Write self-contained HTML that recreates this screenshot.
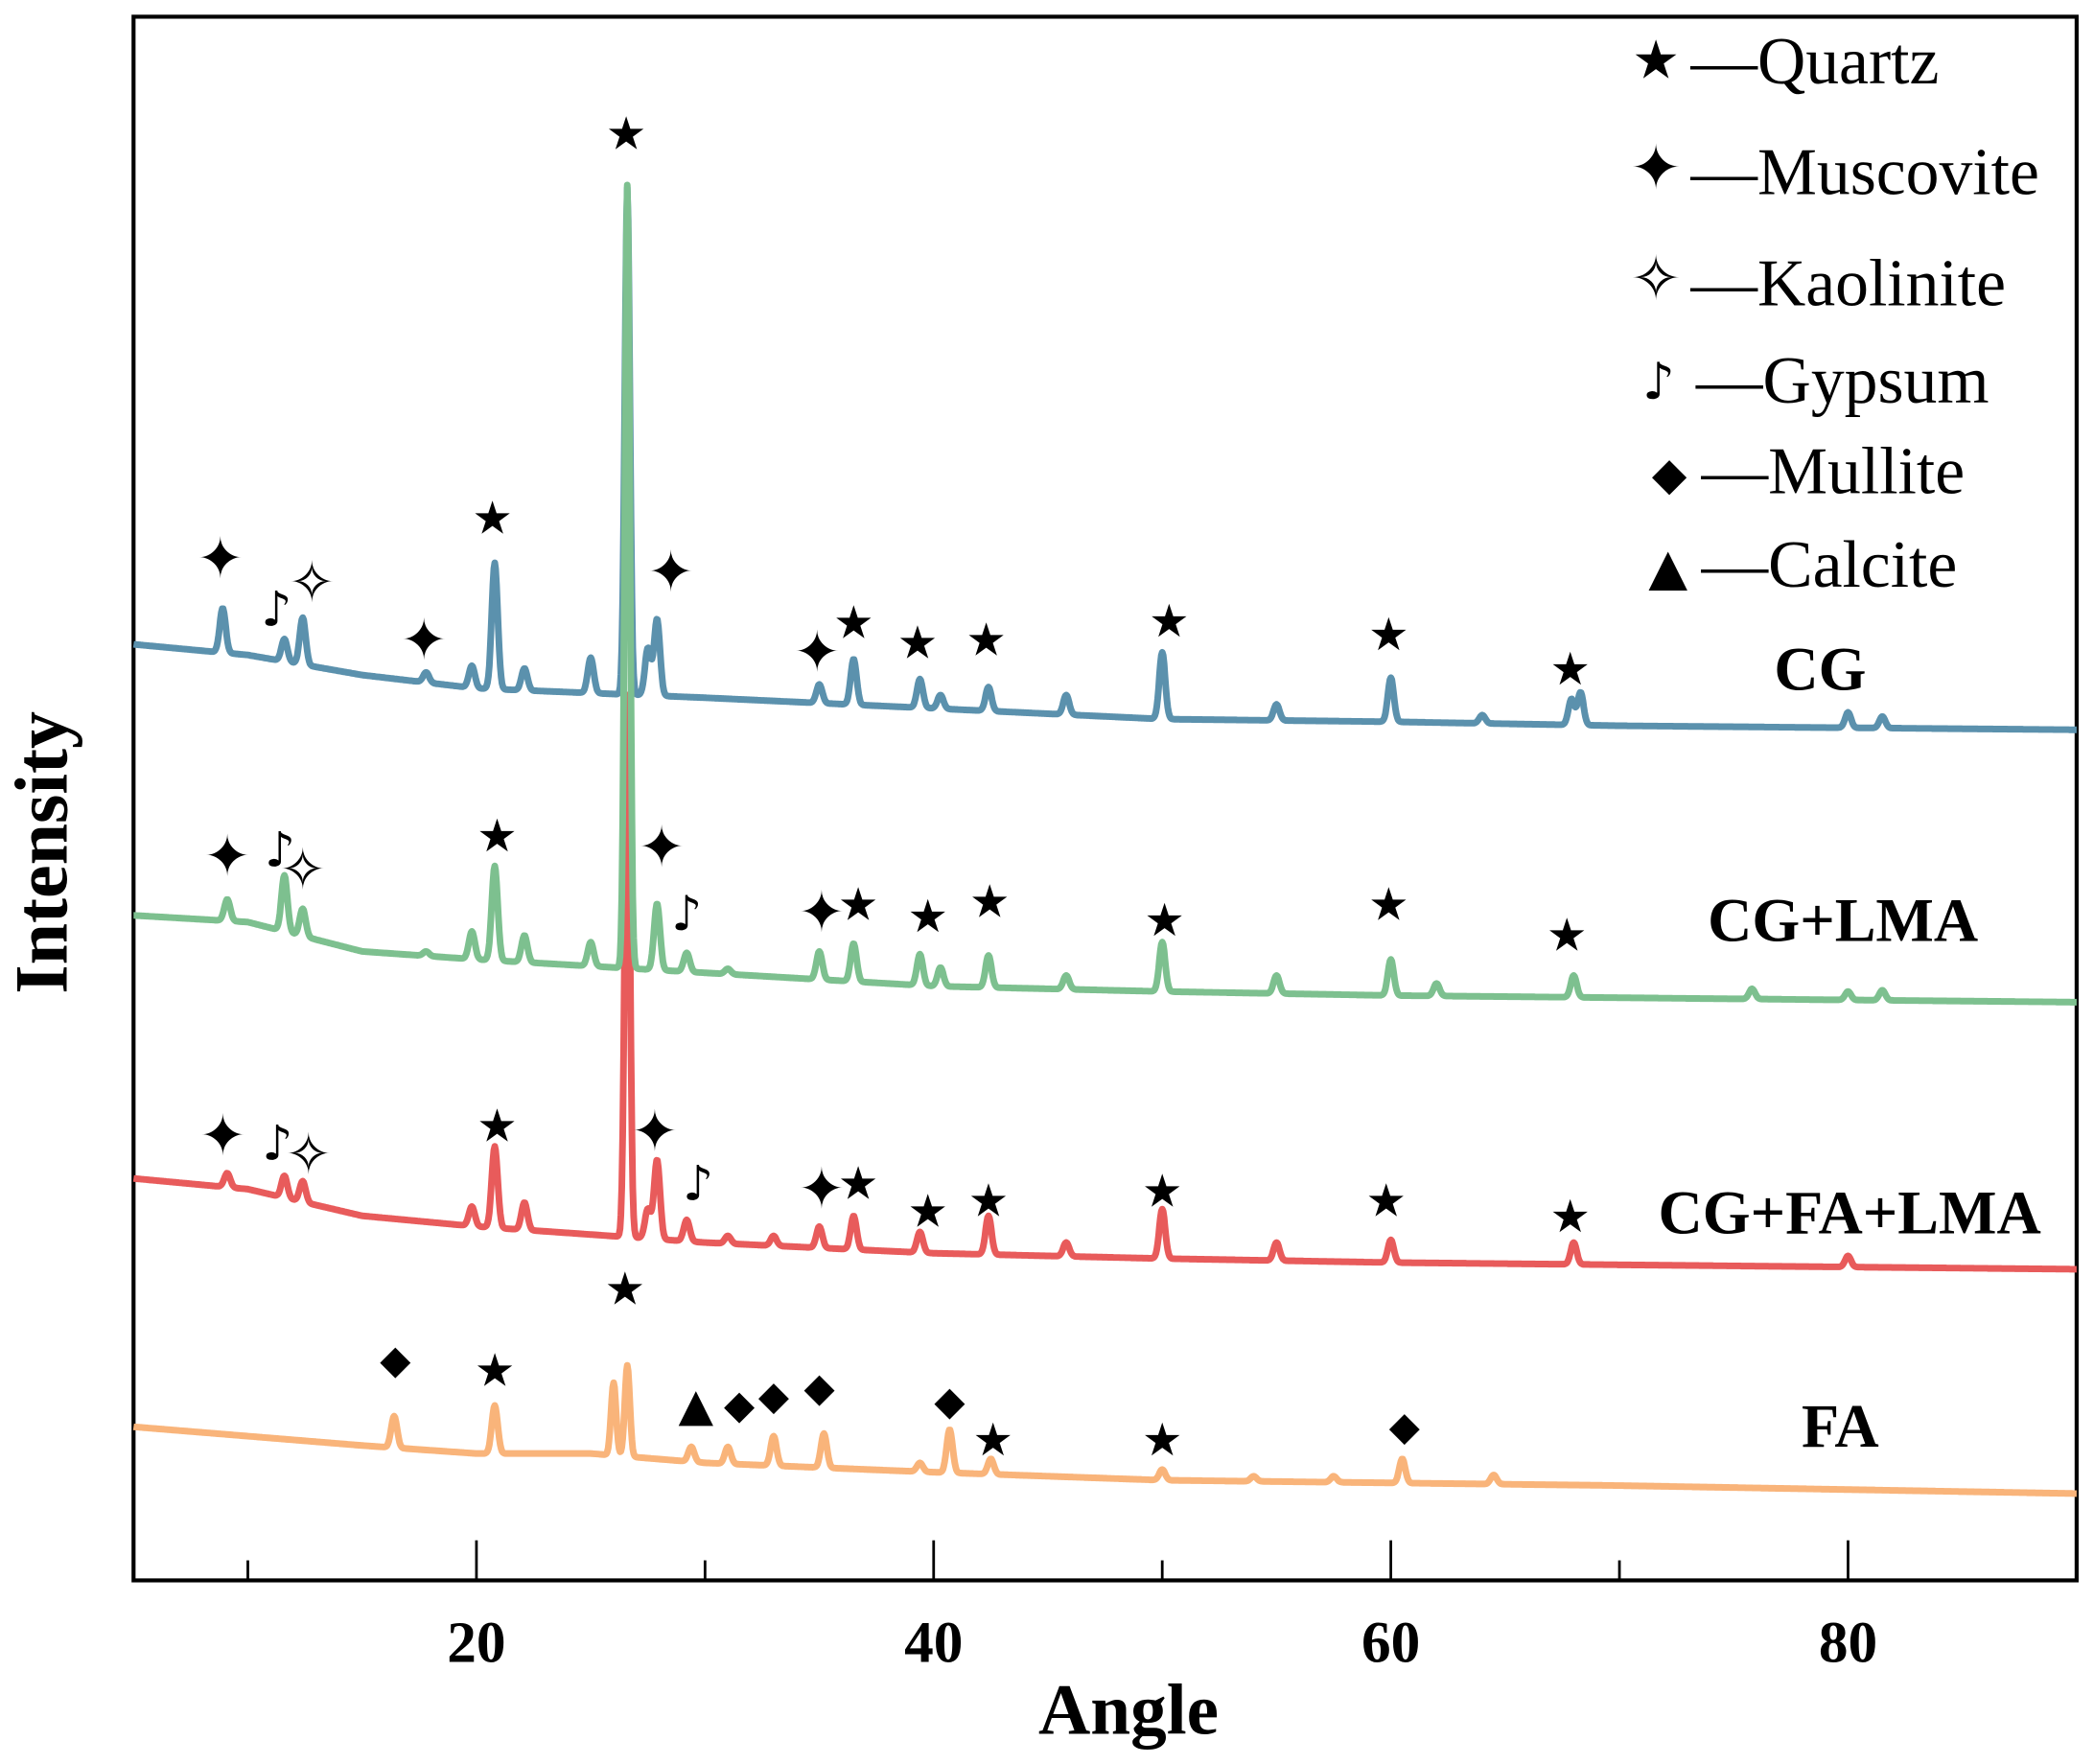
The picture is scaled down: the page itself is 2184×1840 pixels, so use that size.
<!DOCTYPE html>
<html><head><meta charset="utf-8"><style>
html,body{margin:0;padding:0;background:#fff;}
svg{display:block;}
text{font-family:"Liberation Serif","DejaVu Serif",serif;}
.sym{font-family:"DejaVu Sans",sans-serif;}
</style></head><body>
<svg id="chart" width="2184" height="1840" viewBox="0 0 1568 1320" xmlns="http://www.w3.org/2000/svg">
<rect x="100" y="12" width="1455" height="1171" fill="none" stroke="#000" stroke-width="3"/>
<g id="ticks"></g>
<g id="series"></g>
<g id="markers"></g>
<text x="845" y="1298" font-size="54" font-weight="bold" text-anchor="middle">Angle</text>
<text transform="translate(50,638) rotate(-90)" font-size="56" font-weight="bold" text-anchor="middle">Intensity</text>
<g font-size="50">
<text class="sym" x="1240" y="58" font-size="40" text-anchor="middle">★</text>
<text x="1266" y="62">—Quartz</text>
<text class="sym" x="1240" y="141" font-size="46" text-anchor="middle">✦</text>
<text x="1266" y="145">—Muscovite</text>
<text class="sym" x="1240" y="224" font-size="46" text-anchor="middle">✧</text>
<text x="1266" y="228">—Kaolinite</text>
<text class="sym" x="1242" y="298" font-size="38" text-anchor="middle">♪</text>
<text x="1270" y="301">—Gypsum</text>
<text class="sym" x="1250" y="366" font-size="34" text-anchor="middle">◆</text>
<text x="1274" y="369">—Mullite</text>
<text class="sym" x="1249" y="437" font-size="38" text-anchor="middle">▲</text>
<text x="1274" y="439">—Calcite</text>
</g>
<g font-size="46" font-weight="bold" text-anchor="middle">
<text x="1363" y="516">CG</text>
<text x="1380" y="704">CG+LMA</text>
<text x="1385" y="923">CG+FA+LMA</text>
<text x="1378" y="1083">FA</text>
</g>
</svg>
<script>
// ---- data (intensity levels; y = 1180 - intensity) ----
const xTicksMajor = [20, 40, 60, 80];
const xTicksMinor = [10, 30, 50, 70];
const xTickLabels = ["20", "40", "60", "80"];

const cgBaseAngles = [5, 10, 15, 20, 30, 40, 50, 60, 70, 90];
const cgBaseVals = [698, 690, 675, 665, 658, 650, 642, 640, 637, 634];
const cgPeakAngles = [8.9, 11.6, 12.4, 17.8, 19.8, 20.8, 22.1, 25, 26.6, 27.5, 27.9, 35, 36.5, 39.4, 40.3, 42.4, 45.8, 50, 55, 60, 64, 67.9, 68.3, 80, 81.5];
const cgPeakTops = [725, 702, 718, 677, 682, 759, 680, 688, 1040, 695, 717, 668, 687, 672, 660, 666, 660, 692, 653, 673, 645, 657, 662, 647, 644];

const lmaBaseAngles = [5, 10, 15, 20, 30, 40, 50, 60, 90];
const lmaBaseVals = [495, 490, 468, 462, 452, 442, 438, 435, 430];
const lmaPeakAngles = [9.1, 11.6, 12.4, 17.8, 19.8, 20.8, 22.1, 25, 26.6, 27.9, 29.2, 31, 35, 36.5, 39.4, 40.3, 42.4, 45.8, 50, 55, 60, 62, 68, 75.8, 80, 81.5];
const lmaPeakTops = [507, 525, 500, 468, 483, 532, 480, 475, 1042, 504, 467, 455, 468, 474, 466, 456, 465, 450, 475, 450, 462, 444, 450, 440, 438, 439];

const fltBaseAngles = [5, 10, 15, 20, 30, 40, 50, 60, 90];
const fltBaseVals = [298, 290, 270, 262, 250, 242, 238, 235, 230];
const fltPeakAngles = [9.1, 11.6, 12.4, 19.8, 20.8, 22.1, 26.6, 27.5, 27.9, 29.2, 31, 33, 35, 36.5, 39.4, 42.4, 45.8, 50, 55, 60, 68, 80];
const fltPeakTops = [302, 300, 296, 277, 322, 280, 660, 275, 312, 267, 255, 255, 262, 270, 258, 270, 250, 275, 250, 252, 250, 240];

const faBaseAngles = [5, 10, 15, 20, 25, 30, 40, 50, 60, 70, 90];
const faBaseVals = [112, 105, 98, 92, 92, 85, 78, 72, 70, 68, 62];
const faPeakAngles = [16.4, 20.8, 26, 26.6, 29.4, 31, 33, 35.2, 39.4, 40.7, 42.5, 50, 54, 57.5, 60.5, 64.5];
const faPeakTops = [120, 128, 145, 158, 97, 97, 105, 107, 85, 110, 88, 80, 75, 75, 88, 76];

// markers: angle, level, symbol
const mkAngles = [8.8,11.25,12.8,17.7,20.7,26.55,28.5,34.9,36.5,39.3,42.3,50.3,59.9,67.85,
 9.1,11.4,12.4,20.9,28.1,29.2,35.1,36.7,39.75,42.45,50.1,59.9,67.7,
 8.9,11.3,12.65,20.9,27.8,29.7,35.1,36.7,39.75,42.4,50.0,59.8,67.85,
 16.45,20.8,26.5,29.6,31.5,33.0,35.0,40.7,42.6,50.0,60.6];
const mkVals = [763,725,745,702,793,1081,753,693,715,700,702,716,706,680,
 540,545,530,555,547,497,498,504,495,506,492,504,481,
 331,325,317,338,334,295,291,295,274,282,289,282,270,
 163,155,216,129,129,136,142,132,103,103,113];
const mkTypes = ["✦","♪","✧","✦","★","★","✦","✦","★","★","★","★","★","★",
 "✦","♪","✧","★","✦","♪","✦","★","★","★","★","★","★",
 "✦","♪","✧","★","✦","♪","✦","★","★","★","★","★","★",
 "◆","★","★","▲","◆","◆","◆","◆","★","★","◆"];

// ---- scales ----
const X0 = 100, X1 = 1555, D0 = 5, D1 = 90;
function xs(a){ return X0 + (a - D0) / (D1 - D0) * (X1 - X0); }
function ys(v){ return 1180 - v; }
const NS = "http://www.w3.org/2000/svg";

function interp(ax, vs, a){
  if (a <= ax[0]) return vs[0];
  for (let i = 1; i < ax.length; i++) if (a <= ax[i]) {
    const t = (a - ax[i-1]) / (ax[i] - ax[i-1]); return vs[i-1] + t * (vs[i] - vs[i-1]);
  }
  return vs[vs.length-1];
}
function buildPath(bA, bV, pA, pT){
  let d = "";
  for (let a = 5; a <= 90.0001; a += 0.04) {
    let v = interp(bA, bV, a);
    for (let i = 0; i < pA.length; i++) {
      const h = pT[i] - interp(bA, bV, pA[i]);
      const w = (pA[i] === 26.6 || pA[i] === 26) ? 0.11 : 0.13;
      const dx = (a - pA[i]) / w;
      v += h * Math.exp(-dx * dx / 2);
    }
    d += (d ? "L" : "M") + xs(a).toFixed(1) + "," + ys(v).toFixed(1);
  }
  return d;
}
const sg = document.getElementById("series");
function addSeries(name, color, bA, bV, pA, pT){
  const p = document.createElementNS(NS, "path");
  p.setAttribute("d", buildPath(bA, bV, pA, pT));
  p.setAttribute("fill", "none");
  p.setAttribute("stroke", color);
  p.setAttribute("stroke-width", "5");
  p.setAttribute("stroke-linejoin", "round");
  
  
  sg.appendChild(p);
}
addSeries("series-fa", "#f9b47a", faBaseAngles, faBaseVals, faPeakAngles, faPeakTops);
addSeries("series-cg-fa-lma", "#e85b5b", fltBaseAngles, fltBaseVals, fltPeakAngles, fltPeakTops);
addSeries("series-cg", "#5b91ad", cgBaseAngles, cgBaseVals, cgPeakAngles, cgPeakTops);
addSeries("series-cg-lma", "#7dc08f", lmaBaseAngles, lmaBaseVals, lmaPeakAngles, lmaPeakTops);

// ticks
const tg = document.getElementById("ticks");
xTicksMajor.forEach((t, i) => {
  const l = document.createElementNS(NS, "line");
  l.setAttribute("x1", xs(t)); l.setAttribute("x2", xs(t));
  l.setAttribute("y1", 1183); l.setAttribute("y2", 1153);
  l.setAttribute("stroke", "#000"); l.setAttribute("stroke-width", "2");
  
  
  tg.appendChild(l);
  const tx = document.createElementNS(NS, "text");
  tx.setAttribute("x", xs(t)); tx.setAttribute("y", 1244);
  tx.setAttribute("font-size", "44"); tx.setAttribute("font-weight", "bold");
  tx.setAttribute("text-anchor", "middle");
  tx.textContent = xTickLabels[i];
  
  
  tg.appendChild(tx);
});
xTicksMinor.forEach(t => {
  const l = document.createElementNS(NS, "line");
  l.setAttribute("x1", xs(t)); l.setAttribute("x2", xs(t));
  l.setAttribute("y1", 1183); l.setAttribute("y2", 1168);
  l.setAttribute("stroke", "#000"); l.setAttribute("stroke-width", "2");
  
  
  tg.appendChild(l);
});

// markers
const mg = document.getElementById("markers");
const sizes = {"★":34, "✦":42, "✧":42, "♪":36, "◆":30, "▲":34};
mkAngles.forEach((a, i) => {
  const t = document.createElementNS(NS, "text");
  t.setAttribute("class", "sym");
  t.setAttribute("x", xs(a).toFixed(1));
  t.setAttribute("y", (ys(mkVals[i]) + sizes[mkTypes[i]] * 0.36).toFixed(1));
  t.setAttribute("font-size", sizes[mkTypes[i]]);
  t.setAttribute("text-anchor", "middle");
  t.textContent = mkTypes[i];
  
  
  mg.appendChild(t);
});
</script>
</body></html>
